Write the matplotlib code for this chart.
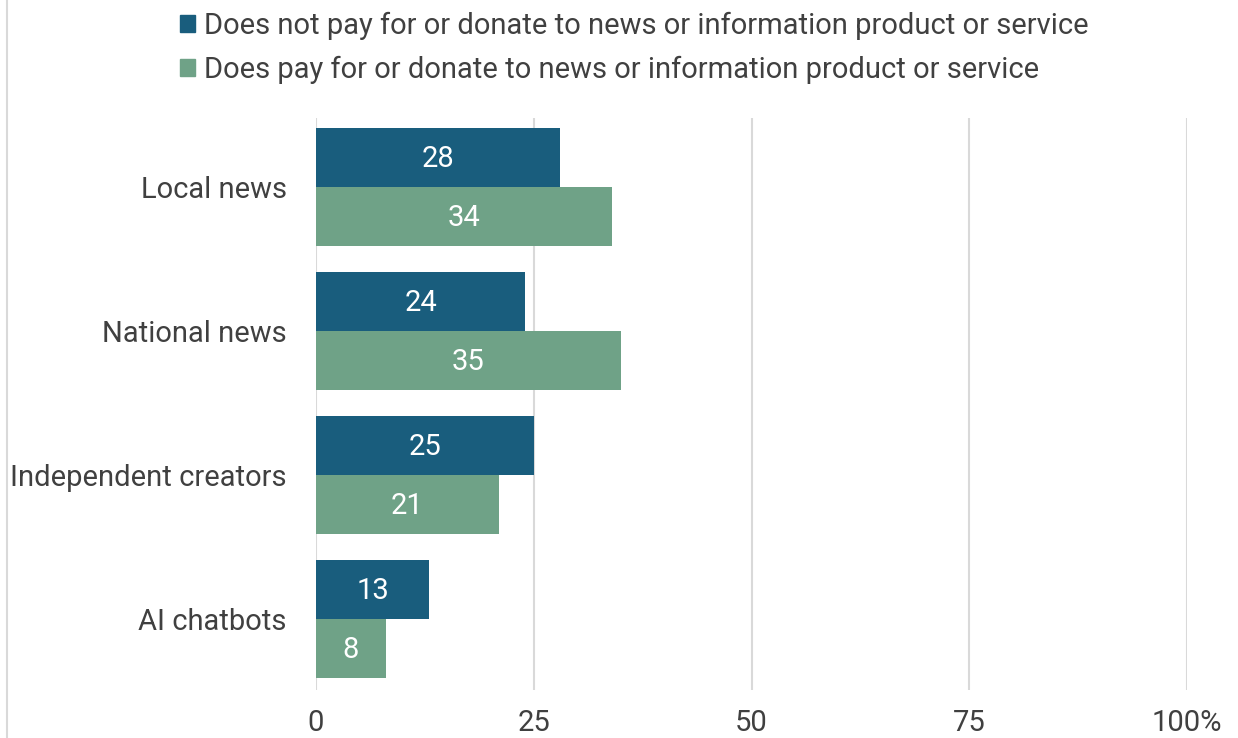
import matplotlib
matplotlib.use("Agg")
import matplotlib.pyplot as plt
import numpy as np
from matplotlib.lines import Line2D
from matplotlib.patches import Patch

plt.rcParams["font.family"] = ["Roboto", "DejaVu Sans"]

CATEGORIES = ["Local news", "National news", "Independent creators", "AI chatbots"]
NOT_PAY = [28, 24, 25, 13]
PAY = [34, 35, 21, 8]
SERIES_LABELS = [
    "Does not pay for or donate to news or information product or service",
    "Does pay for or donate to news or information product or service",
]
X_TICKS = [0, 25, 50, 75, 100]
X_TICK_LABELS = ["0", "25", "50", "75", "100%"]

DARK = "#195d7d"
GREEN = "#6fa287"
GRID = "#d9d9d9"
TEXT = "#404040"
FS = 21

W, H = 1238, 738
fig = plt.figure(figsize=(W / 100, H / 100), dpi=100)
ax = fig.add_axes([316 / W, 1 - 690 / H, (1187 - 316) / W, (690 - 118) / H])

y = np.arange(len(CATEGORIES))
bh = 0.41
ax.barh(y - bh / 2, NOT_PAY, height=bh, color=DARK, zorder=3)
ax.barh(y + bh / 2, PAY, height=bh, color=GREEN, zorder=3)

for yi, v in zip(y, NOT_PAY):
    ax.text(v / 2, yi - bh / 2 + 0.01, str(v), color="white", ha="center", va="center",
            fontsize=FS, zorder=4)
for yi, v in zip(y, PAY):
    ax.text(v / 2, yi + bh / 2 + 0.01, str(v), color="white", ha="center", va="center",
            fontsize=FS, zorder=4)

ax.set_xlim(0, 100)
ax.set_ylim(len(CATEGORIES) - 1 + bh + 0.083, -bh - 0.07)
ax.set_xticks(X_TICKS)
ax.set_xticklabels(X_TICK_LABELS)
ax.set_yticks(y)
ax.set_yticklabels(CATEGORIES)
ax.tick_params(axis="both", length=0, labelsize=FS, labelcolor=TEXT)
ax.tick_params(axis="x", pad=14)
ax.tick_params(axis="y", pad=21)
for s in ax.spines.values():
    s.set_visible(False)
for t in X_TICKS:
    ax.axvline(t, color=GRID, lw=1.5, zorder=1)

# light frame line on the left edge
fig.add_artist(Line2D([7 / W, 7 / W], [0, 1], color=GRID, lw=1.5))

handles = [Patch(color=DARK), Patch(color=GREEN)]
fig.legend(handles, SERIES_LABELS, loc="upper left", bbox_to_anchor=(154 / W, 1.02),
           frameon=False, fontsize=FS, labelcolor=TEXT, handlelength=0.5,
           handleheight=0.5, handletextpad=0.3, labelspacing=0.55)

fig.savefig("out.png", dpi=100)
